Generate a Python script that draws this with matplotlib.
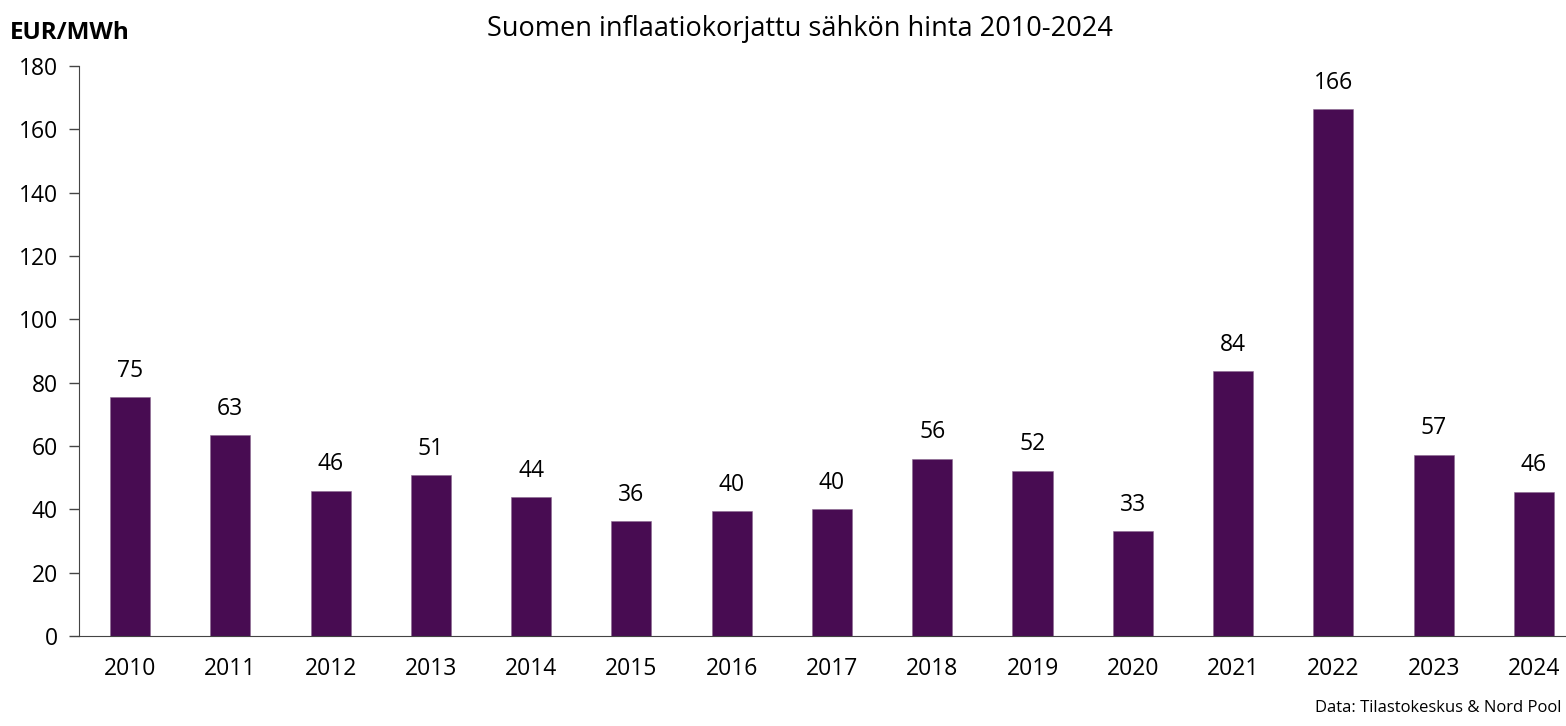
import matplotlib.pyplot as plt
import numpy as np

plt.rcParams['font.family'] = ['Open Sans', 'DejaVu Sans']

# Inflation-adjusted electricity price in Finland
years = ['2010', '2011', '2012', '2013', '2014', '2015', '2016', '2017',
         '2018', '2019', '2020', '2021', '2022', '2023', '2024']
prices = [75.4, 63.4, 45.9, 50.8, 43.9, 36.3, 39.5, 40.1,
          56.0, 52.2, 33.1, 83.7, 166.3, 57.3, 45.6]
labels = ['75', '63', '46', '51', '44', '36', '40', '40',
          '56', '52', '33', '84', '166', '57', '46']

fig = plt.figure(figsize=(15.66, 7.26), dpi=100)
ax = fig.add_axes([0.0504, 0.124, 0.9496, 0.785])

x = np.arange(len(years))
bars = ax.bar(x, prices, width=0.4, color='#480c52', edgecolor='#8a6a90', linewidth=0.4)

for xi, v, lab in zip(x, prices, labels):
    ax.text(xi, v + 4.5, lab, ha='center', va='bottom', fontsize=16.5, color='black')

ax.set_xlim(-0.51, 14.32)
ax.set_ylim(0, 180)
ax.set_yticks(range(0, 181, 20))
ax.set_xticks(x)
ax.set_xticklabels(years)
ax.tick_params(axis='y', labelsize=16.5, length=7, width=1, color='#444444', pad=8)
ax.tick_params(axis='x', labelsize=16.5, length=0, pad=15)

for side in ['top', 'right']:
    ax.spines[side].set_visible(False)
ax.spines['left'].set_color('#444444')
ax.spines['bottom'].set_color('#444444')

fig.text(0.511, 0.96, 'Suomen inflaatiokorjattu sähkön hinta 2010-2024',
         ha='center', va='center', fontsize=19.5)
fig.text(0.006, 0.955, 'EUR/MWh', ha='left', va='center', fontsize=17.5, fontweight='bold')
fig.text(0.997, 0.025, 'Data: Tilastokeskus & Nord Pool', ha='right', va='center', fontsize=12)

plt.savefig('out.png', dpi=100)
